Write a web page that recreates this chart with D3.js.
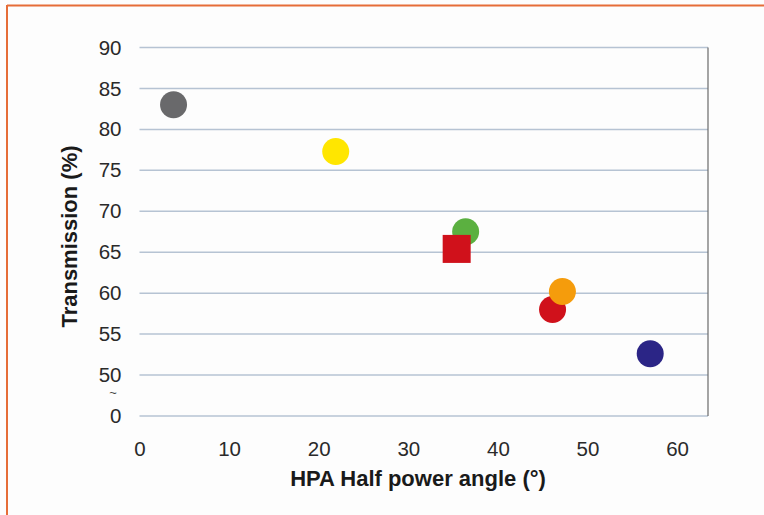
<!DOCTYPE html>
<html>
<head>
<meta charset="utf-8">
<script src="https://cdn.jsdelivr.net/npm/d3@7"></script>
<style>
  html, body { margin: 0; padding: 0; background: #fdfdfd; }
  svg { display: block; }
  text { font-family: "Liberation Sans", Arial, Helvetica, sans-serif; }
</style>
</head>
<body>
<svg id="chart" width="764" height="515"></svg>
<script>
// Measurements: half power angle (deg) vs. transmission (%)
const angles       = [3.8, 21.9, 36.4, 35.4, 46.1, 47.2, 57.0];
const transmission = [83.0, 77.3, 67.5, 65.4, 58.0, 60.2, 52.6];
const shapes       = ["circle", "circle", "circle", "square", "circle", "circle", "circle"];
const colors       = ["#69696b", "#ffe600", "#5bb040", "#d0111b", "#d0111b", "#f59c0c", "#2b2586"];

const xTicks = [0, 10, 20, 30, 40, 50, 60];
const yTicks = [0, 50, 55, 60, 65, 70, 75, 80, 85, 90];

const svg = d3.select("#chart");

// outer frame (top and left rules)
svg.append("line").attr("x1", 7).attr("x2", 764).attr("y1", 5.5).attr("y2", 5.5)
  .attr("stroke", "#e66d38").attr("stroke-width", 2);
svg.append("line").attr("x1", 7).attr("x2", 7).attr("y1", 5).attr("y2", 515)
  .attr("stroke", "#e66d38").attr("stroke-width", 2);

const plotLeft = 139.5, plotRight = 708, plotTop = 47.5, plotBottom = 416;

const x = d3.scaleLinear().domain([0, 63.45]).range([plotLeft, plotRight]);
// broken axis: 0 sits one step below 50
const y = d3.scaleLinear().domain([0, 50, 90]).range([plotBottom, plotBottom - 41, plotTop]);

// horizontal gridlines
svg.append("g")
  .selectAll("line")
  .data(yTicks)
  .join("line")
  .attr("x1", plotLeft).attr("x2", plotRight)
  .attr("y1", d => y(d)).attr("y2", d => y(d))
  .attr("stroke", "#b6c3d3").attr("stroke-width", 1.5);

// right frame line of the plot
svg.append("line")
  .attr("x1", plotRight).attr("x2", plotRight).attr("y1", plotTop).attr("y2", plotBottom)
  .attr("stroke", "#6a6a6a").attr("stroke-width", 1.2);

// y axis labels
const yAxis = svg.append("g")
  .attr("transform", `translate(${plotLeft},0)`)
  .call(d3.axisLeft(y).tickValues(yTicks).tickSize(0).tickPadding(18).tickFormat(d3.format("d")));
yAxis.select(".domain").remove();
yAxis.selectAll("text")
  .attr("font-size", 20.5).attr("fill", "#2a2a2a").attr("font-family", "Liberation Sans, Arial, sans-serif");

// axis break mark between 0 and 50
svg.append("text")
  .attr("x", 113).attr("y", y(0) - 19)
  .attr("text-anchor", "middle").attr("font-size", 13).attr("fill", "#444")
  .text("~");

// x axis labels
const xAxis = svg.append("g")
  .attr("transform", `translate(0,${plotBottom})`)
  .call(d3.axisBottom(x).tickValues(xTicks).tickSize(0).tickPadding(25).tickFormat(d3.format("d")));
xAxis.select(".domain").remove();
xAxis.selectAll("text")
  .attr("font-size", 20.5).attr("fill", "#2a2a2a").attr("font-family", "Liberation Sans, Arial, sans-serif");

// axis titles
svg.append("text")
  .attr("x", 418).attr("y", 486)
  .attr("text-anchor", "middle").attr("font-size", 22).attr("font-weight", "bold").attr("fill", "#1a1a1a")
  .text("HPA Half power angle (°)");
svg.append("text")
  .attr("transform", `translate(77,236.5) rotate(-90)`)
  .attr("text-anchor", "middle").attr("font-size", 22).attr("font-weight", "bold").attr("fill", "#1a1a1a")
  .text("Transmission (%)");

// points
const data = angles.map((a, i) => ({ a, t: transmission[i], shape: shapes[i], color: colors[i] }));
const r = 13.5, half = 14;
const marks = svg.append("g");
data.forEach(d => {
  if (d.shape === "square") {
    marks.append("rect")
      .attr("x", x(d.a) - half).attr("y", y(d.t) - half)
      .attr("width", half * 2).attr("height", half * 2)
      .attr("fill", d.color);
  } else {
    marks.append("circle")
      .attr("cx", x(d.a)).attr("cy", y(d.t)).attr("r", r)
      .attr("fill", d.color);
  }
});
</script>
</body>
</html>
